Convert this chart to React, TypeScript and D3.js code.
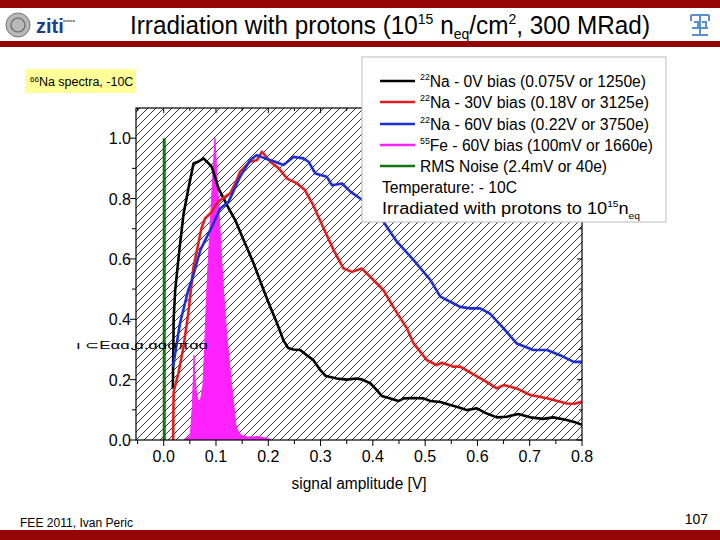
import React from "react";
import * as d3 from "d3";

const xTicks = [0.0, 0.1, 0.2, 0.3, 0.4, 0.5, 0.6, 0.7, 0.8];
const xMinor = [-0.05, 0.05, 0.15, 0.25, 0.35, 0.45, 0.55, 0.65, 0.75];
const yTicks = [0.0, 0.2, 0.4, 0.6, 0.8, 1.0];
const yMinor = [0.1, 0.3, 0.5, 0.7, 0.9];

const na0V: [number, number][] = [
  [0.0175, 0.17], [0.019, 0.40], [0.022, 0.497], [0.03, 0.63], [0.038, 0.75], [0.048, 0.84], [0.057, 0.916],
  [0.066, 0.922], [0.076, 0.933], [0.084, 0.92], [0.092, 0.905], [0.105, 0.833], [0.121, 0.778],
  [0.137, 0.728], [0.153, 0.662], [0.172, 0.585], [0.191, 0.497], [0.204, 0.44], [0.216, 0.39],
  [0.229, 0.33], [0.238, 0.305], [0.248, 0.30], [0.261, 0.298], [0.272, 0.283], [0.286, 0.265],
  [0.298, 0.235], [0.31, 0.212], [0.331, 0.204], [0.35, 0.2], [0.369, 0.204], [0.38, 0.2],
  [0.395, 0.188], [0.405, 0.17], [0.417, 0.146], [0.432, 0.138], [0.449, 0.129], [0.459, 0.138],
  [0.478, 0.139], [0.497, 0.138], [0.51, 0.129], [0.529, 0.126], [0.545, 0.118], [0.565, 0.108],
  [0.58, 0.099], [0.599, 0.105], [0.615, 0.09], [0.637, 0.075], [0.656, 0.077], [0.678, 0.086],
  [0.701, 0.075], [0.726, 0.07], [0.745, 0.075], [0.771, 0.066], [0.785, 0.06], [0.8, 0.05],
];

const na30V: [number, number][] = [
  [0.018, 0.0], [0.019, 0.16], [0.028, 0.22], [0.038, 0.31], [0.047, 0.42], [0.054, 0.53],
  [0.057, 0.574], [0.065, 0.64], [0.072, 0.70], [0.079, 0.734], [0.092, 0.756], [0.1, 0.78],
  [0.108, 0.795], [0.127, 0.817], [0.137, 0.85], [0.146, 0.889], [0.165, 0.922], [0.178, 0.927],
  [0.188, 0.955], [0.204, 0.922], [0.22, 0.9], [0.236, 0.866], [0.255, 0.85], [0.27, 0.828],
  [0.286, 0.778], [0.306, 0.701], [0.325, 0.629], [0.344, 0.568], [0.36, 0.557], [0.379, 0.568],
  [0.392, 0.546], [0.42, 0.497], [0.439, 0.441], [0.455, 0.397], [0.465, 0.37], [0.478, 0.32],
  [0.503, 0.265], [0.522, 0.248], [0.532, 0.256], [0.554, 0.243], [0.567, 0.243], [0.589, 0.221],
  [0.611, 0.199], [0.637, 0.171], [0.65, 0.182], [0.675, 0.171], [0.701, 0.149], [0.733, 0.138],
  [0.771, 0.121], [0.785, 0.12], [0.8, 0.127],
];

const na60V: [number, number][] = [
  [0.018, 0.243], [0.031, 0.386], [0.047, 0.497], [0.054, 0.53], [0.07, 0.629], [0.092, 0.706],
  [0.108, 0.767], [0.124, 0.789], [0.146, 0.872], [0.165, 0.927], [0.178, 0.944], [0.194, 0.933],
  [0.213, 0.922], [0.229, 0.911], [0.248, 0.938], [0.267, 0.933], [0.277, 0.922], [0.29, 0.883],
  [0.312, 0.872], [0.322, 0.844], [0.341, 0.85], [0.357, 0.823], [0.376, 0.8], [0.395, 0.78],
  [0.41, 0.75], [0.427, 0.706], [0.446, 0.657], [0.478, 0.596], [0.51, 0.53], [0.529, 0.475],
  [0.548, 0.458], [0.567, 0.441], [0.586, 0.436], [0.605, 0.436], [0.624, 0.419], [0.65, 0.37],
  [0.675, 0.32], [0.707, 0.298], [0.733, 0.298], [0.758, 0.281], [0.784, 0.259], [0.8, 0.259],
];

const fe60V: [number, number][] = [
  [0.040, 0.0], [0.045, 0.01], [0.05, 0.01], [0.052, 0.04], [0.055, 0.12], [0.058, 0.28],
  [0.060, 0.2], [0.063, 0.15], [0.066, 0.13], [0.069, 0.12], [0.072, 0.15], [0.075, 0.18],
  [0.078, 0.3], [0.082, 0.48], [0.086, 0.62], [0.090, 0.75], [0.094, 0.88], [0.098, 1.0],
  [0.101, 0.9], [0.105, 0.78], [0.110, 0.62], [0.115, 0.48], [0.120, 0.36], [0.125, 0.27],
  [0.130, 0.18], [0.135, 0.1], [0.138, 0.05], [0.142, 0.03], [0.146, 0.02], [0.150, 0.015],
  [0.16, 0.01], [0.17, 0.01], [0.18, 0.012], [0.19, 0.008], [0.2, 0.005], [0.205, 0.0],
];

const rmsNoise: [number, number][] = [
  [0.001, 0.0], [0.001, 1.0],
];

const legendItems = [
  { sup: "22", label: "Na - 0V bias (0.075V or 1250e)", color: "#000000", len: 226 },
  { sup: "22", label: "Na - 30V bias (0.18V or 3125e)", color: "#e02020", len: 229 },
  { sup: "22", label: "Na - 60V bias (0.22V or 3750e)", color: "#1f2fd0", len: 229 },
  { sup: "55", label: "Fe - 60V bias (100mV or 1660e)", color: "#ff22ff", len: 233 },
  { sup: "", label: "RMS Noise (2.4mV or 40e)", color: "#127512", len: 187 },
];

const FONT = "'Liberation Sans', Arial, sans-serif";

export default function App() {
  const x = d3.scaleLinear().domain([-0.053, 0.8]).range([136, 582]);
  const y = d3.scaleLinear().domain([0, 1.1]).range([440, 108]);
  const line = d3.line<[number, number]>().x((d) => x(d[0])).y((d) => y(d[1]));
  const area = d3.area<[number, number]>().x((d) => x(d[0])).y0(y(0)).y1((d) => y(d[1]));

  const L = 136, R = 582, T = 108, B = 440;
  const legY = [81, 102, 124, 145, 166];

  return (
    <svg width={720} height={540} style={{ position: "absolute", left: 0, top: 0, background: "#fff" }} fontFamily={FONT}>
      <defs>
        <pattern id="hatch" patternUnits="userSpaceOnUse" width={8} height={8}>
          <path d="M-2,2 L2,-2 M0,8 L8,0 M6,10 L10,6" stroke="#222" strokeWidth={0.9} />
        </pattern>
        <clipPath id="plotclip">
          <rect x={L} y={T} width={R - L} height={B - T} />
        </clipPath>
      </defs>
      <rect x={0} y={0} width={720} height={540} fill="#fff" />
      {/* slide decorations */}
      <rect x={0} y={0} width={720} height={8} fill="#950606" />
      <rect x={0} y={41} width={720} height={6} fill="#950606" />
      <rect x={0} y={530} width={720} height={10} fill="#950606" />
      <circle cx={18} cy={25} r={12} fill="#b8b8b8" stroke="#777" strokeWidth={1} />
      <circle cx={18} cy={25} r={7} fill="none" stroke="#666" strokeWidth={1.2} />
      <text x={36} y={33} fontSize={20} fontWeight="bold" fill="#1d3e8c" fontFamily={FONT}>ziti</text>
      <text x={63} y={22} fontSize={4} fill="#888">■■■■■</text>
      <g stroke="#5a8fd0" strokeWidth={2} fill="none">
        <path d="M691,15 h18 M691,15 v6 M709,15 v6 M700,15 v20 M692,28 h16 M692,35 h16 M694,22 h4 v6 M702,22 h4 v6" />
      </g>
      <text x={390} y={34} textAnchor="middle" fontSize={26} fill="#000" textLength={520} lengthAdjust="spacingAndGlyphs">
        Irradiation with protons (10<tspan fontSize={15} dy={-10}>15</tspan>
        <tspan dy={10}> n</tspan><tspan fontSize={15} dy={5}>eq</tspan>
        <tspan dy={-5}>/cm</tspan><tspan fontSize={15} dy={-10}>2</tspan>
        <tspan dy={10}>, 300 MRad)</tspan>
      </text>
      {/* subtitle box */}
      <rect x={25} y={69} width={111} height={24} fill="#ffff99" />
      <text x={30} y={86} fontSize={12.5} fill="#000">
        <tspan fontSize={8} dy={-4}>66</tspan><tspan dy={4}>Na spectra, -10C</tspan>
      </text>

      {/* plot */}
      <rect x={L} y={T} width={R - L} height={B - T} fill="url(#hatch)" />
      <g clipPath="url(#plotclip)">
        <path d={area(fe60V) || ""} fill="#ff22ff" stroke="#ff22ff" strokeWidth={1} />
        <path d={line(rmsNoise) || ""} fill="none" stroke="#127512" strokeWidth={3} />
        <path d={line(na0V) || ""} fill="none" stroke="#000" strokeWidth={2.6} strokeLinejoin="round" />
        <path d={line(na30V) || ""} fill="none" stroke="#e02020" strokeWidth={2.6} strokeLinejoin="round" />
        <path d={line(na60V) || ""} fill="none" stroke="#1f2fd0" strokeWidth={2.6} strokeLinejoin="round" />
      </g>
      <rect x={L} y={T} width={R - L} height={B - T} fill="none" stroke="#000" strokeWidth={1.2} />
      {/* x axis ticks */}
      {xTicks.map((t) => (
        <g key={"xt" + t}>
          <line x1={x(t)} x2={x(t)} y1={B} y2={B + 6} stroke="#000" strokeWidth={1} />
          <line x1={x(t)} x2={x(t)} y1={T} y2={T + 5} stroke="#000" strokeWidth={1} />
          <text x={x(t)} y={462} textAnchor="middle" fontSize={16} fill="#000">{t.toFixed(1)}</text>
        </g>
      ))}
      {xMinor.map((t) => (
        <g key={"xm" + t}>
          <line x1={x(t)} x2={x(t)} y1={B} y2={B + 4} stroke="#000" strokeWidth={1} />
          <line x1={x(t)} x2={x(t)} y1={T} y2={T + 3} stroke="#000" strokeWidth={1} />
        </g>
      ))}
      {yTicks.map((t) => (
        <g key={"yt" + t}>
          <line x1={L - 6} x2={L} y1={y(t)} y2={y(t)} stroke="#000" strokeWidth={1} />
          <line x1={R - 5} x2={R} y1={y(t)} y2={y(t)} stroke="#000" strokeWidth={1} />
          <text x={131} y={y(t) + 6} textAnchor="end" fontSize={16} fill="#000">{t.toFixed(1)}</text>
        </g>
      ))}
      {yMinor.map((t) => (
        <g key={"ym" + t}>
          <line x1={L - 4} x2={L} y1={y(t)} y2={y(t)} stroke="#000" strokeWidth={1} />
          <line x1={R - 3} x2={R} y1={y(t)} y2={y(t)} stroke="#000" strokeWidth={1} />
        </g>
      ))}
      <text x={359} y={489} textAnchor="middle" fontSize={16} fill="#000" textLength={135} lengthAdjust="spacingAndGlyphs">signal amplitude [V]</text>
      {/* garbled y label */}
      <text x={76} y={349} fontSize={11} fill="#000" textLength={132} lengthAdjust="spacingAndGlyphs">ı ⊂Eαɑ.ɑ.ɑɑσπɑɑ</text>

      {/* legend */}
      <rect x={362} y={57} width={304} height={165} fill="#fff" stroke="#bbb" strokeWidth={1} />
      {legendItems.map((it, i) => (
        <g key={"lg" + i}>
          <line x1={380} x2={415} y1={legY[i]} y2={legY[i]} stroke={it.color} strokeWidth={2.5} />
          <text x={420} y={legY[i] + 6} fontSize={16} fill="#000" textLength={it.len} lengthAdjust="spacingAndGlyphs">
            {it.sup ? <tspan fontSize={9} dy={-7}>{it.sup}</tspan> : null}
            <tspan dy={it.sup ? 7 : 0}>{it.label}</tspan>
          </text>
        </g>
      ))}
      <text x={382} y={193} fontSize={16} fill="#000" textLength={135} lengthAdjust="spacingAndGlyphs">Temperature: - 10C</text>
      <text x={382} y={214} fontSize={16} fill="#000" textLength={258} lengthAdjust="spacingAndGlyphs">
        Irradiated with protons to 10<tspan fontSize={9} dy={-7}>15</tspan><tspan dy={7}>n</tspan><tspan fontSize={9} dy={5}>eq</tspan>
      </text>

      {/* footer */}
      <text x={20} y={527} fontSize={12} fill="#000" textLength={113} lengthAdjust="spacingAndGlyphs">FEE 2011, Ivan Peric</text>
      <text x={708} y={524} fontSize={14} fill="#000" textAnchor="end">107</text>
    </svg>
  );
}
